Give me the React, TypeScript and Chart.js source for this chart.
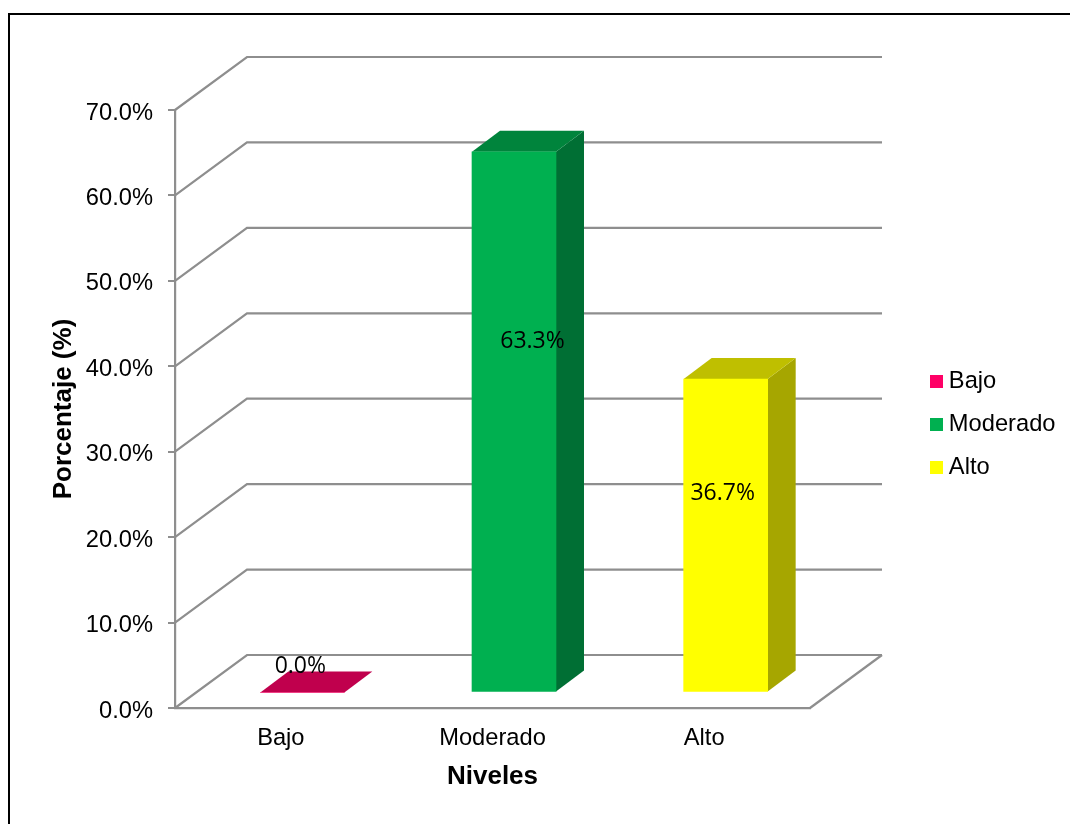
import React, { useEffect, useRef } from "react";
import { Chart, registerables } from "chart.js";

Chart.register(...registerables);

const categories = ["Bajo", "Moderado", "Alto"];
const values = [0.0, 63.3, 36.7];
const valueLabels = ["0.0%", "63.3%", "36.7%"];
const frontColors = ["#FF0066", "#00B050", "#FFFF00"];
const topColors = ["#C0004D", "#00843C", "#BFBF00"];
const sideColors = ["#A80043", "#006F34", "#A6A600"];
const labelOffsetX = [-2, 18.5, -3];
const labelOffsetY = [-27, 189, 113];

const AXIS_FONT = "'Liberation Sans', Arial, sans-serif";
const GRID = "#8E8E8E";
const WALL_DX = 72;
const WALL_DY = 53;
const BAR_DX = 21.5;
const BAR_DY = 15.5;
const DEPTH_DX = 28;
const DEPTH_DY = 21;

function swatch(color: string) {
  const c = document.createElement("canvas");
  c.width = 13;
  c.height = 13;
  const g = c.getContext("2d")!;
  g.fillStyle = color;
  g.fillRect(0, 0, 13, 13);
  return c;
}

const poly = (ctx: CanvasRenderingContext2D, color: string, pts: number[][]) => {
  ctx.fillStyle = color;
  ctx.beginPath();
  pts.forEach(([x, y], i) => (i ? ctx.lineTo(x, y) : ctx.moveTo(x, y)));
  ctx.closePath();
  ctx.fill();
};

const depthPlugin = {
  id: "depth3d",
  afterLayout(chart: any) {
    const l = chart.legend;
    if (!l) return;
    l.left = 917;
    l.right = 1070;
    l.top = 351;
    l.bottom = 824;
  },
  beforeDatasetsDraw(chart: any) {
    const { ctx, scales, chartArea } = chart;
    const { left, right, bottom } = chartArea;
    ctx.save();
    ctx.strokeStyle = GRID;
    ctx.lineWidth = 2.2;
    ctx.lineJoin = "miter";
    scales.y.ticks.forEach((t: any) => {
      const y = scales.y.getPixelForValue(t.value);
      ctx.beginPath();
      ctx.moveTo(left, y);
      ctx.lineTo(left + WALL_DX, y - WALL_DY);
      ctx.lineTo(right + WALL_DX, y - WALL_DY);
      ctx.stroke();
    });
    ctx.beginPath();
    ctx.moveTo(right, bottom);
    ctx.lineTo(right + WALL_DX, bottom - WALL_DY);
    ctx.stroke();

    const meta = chart.getDatasetMeta(0);
    meta.data.forEach((bar: any, i: number) => {
      const w = bar.width;
      const x0 = bar.x - w / 2 + BAR_DX;
      const x1 = bar.x + w / 2 + BAR_DX;
      const yT = bar.y - BAR_DY;
      const yB = bar.base - BAR_DY;
      if (yB - yT > 0.5) {
        poly(ctx, sideColors[i], [
          [x1, yT],
          [x1 + DEPTH_DX, yT - DEPTH_DY],
          [x1 + DEPTH_DX, yB - DEPTH_DY],
          [x1, yB],
        ]);
      }
      poly(ctx, topColors[i], [
        [x0, yT],
        [x0 + DEPTH_DX, yT - DEPTH_DY],
        [x1 + DEPTH_DX, yT - DEPTH_DY],
        [x1, yT],
      ]);
    });
    ctx.restore();
  },
  beforeDatasetDraw(chart: any) {
    chart.ctx.save();
    chart.ctx.translate(BAR_DX, -BAR_DY);
  },
  afterDatasetDraw(chart: any) {
    chart.ctx.restore();
  },
  afterDatasetsDraw(chart: any) {
    const { ctx } = chart;
    const meta = chart.getDatasetMeta(0);
    ctx.save();
    ctx.font = "normal normal 400 23px 'Open Sans', sans-serif";
    ctx.fillStyle = "#000000";
    ctx.textAlign = "center";
    ctx.textBaseline = "middle";
    meta.data.forEach((bar: any, i: number) => {
      ctx.fillText(
        valueLabels[i],
        bar.x + BAR_DX + labelOffsetX[i],
        bar.y - BAR_DY + labelOffsetY[i] + 1
      );
    });
    ctx.restore();
  },
};

export default function App() {
  const ref = useRef<HTMLCanvasElement>(null);
  useEffect(() => {
    const chart = new Chart(ref.current!, {
      type: "bar",
      data: {
        labels: categories,
        datasets: [
          {
            label: "Porcentaje",
            data: values,
            backgroundColor: frontColors,
            barThickness: 84,
            clip: false as any,
          },
        ],
      },
      plugins: [depthPlugin],
      options: {
        animation: false,
        responsive: false,
        layout: { padding: { top: 110, right: 260, bottom: 0, left: 0 } },
        plugins: {
          tooltip: { enabled: false },
          title: { display: false },
          legend: {
            display: true,
            position: "chartArea" as any,
            align: "start",
            labels: {
              usePointStyle: true,
              pointStyleWidth: 1,
              padding: 19,
              color: "#000000",
              font: { family: AXIS_FONT, size: 23.7 },
              generateLabels: () =>
                categories.map((c, i) => ({
                  text: c,
                  fillStyle: frontColors[i],
                  strokeStyle: frontColors[i],
                  lineWidth: 0,
                  pointStyle: swatch(frontColors[i]),
                  hidden: false,
                  index: i,
                })) as any,
            },
          },
        },
        scales: {
          x: {
            afterFit: (s: any) => {
              s.height = 116;
            },
            grid: { display: false },
            border: { display: true, color: GRID, width: 2.2 },
            ticks: {
              color: "#000000",
              font: { family: AXIS_FONT, size: 23.7 },
              padding: 8,
              maxRotation: 0,
              autoSkip: false,
            },
            title: {
              display: true,
              text: "Niveles",
              color: "#000000",
              font: { family: AXIS_FONT, size: 26, weight: "bold" },
              padding: { top: 0, bottom: 32 },
            },
          },
          y: {
            min: 0,
            max: 70,
            afterFit: (s: any) => {
              s.width = 175;
            },
            grid: {
              display: true,
              drawOnChartArea: false,
              drawTicks: true,
              tickLength: 7,
              color: GRID,
              lineWidth: 2,
            },
            border: { display: true, color: GRID, width: 2.2 },
            ticks: {
              stepSize: 10,
              color: "#000000",
              font: { family: AXIS_FONT, size: 23.7 },
              padding: 15,
              labelOffset: 3,
              callback: (v: any) => Number(v).toFixed(1) + "%",
            },
            title: {
              display: true,
              text: "Porcentaje (%)",
              color: "#000000",
              font: { family: AXIS_FONT, size: 26, weight: "bold" },
              padding: { top: 48, bottom: 0 },
            },
          },
        },
      },
    } as any);
    return () => chart.destroy();
  }, []);
  return (
    <div style={{ position: "absolute", left: 0, top: 0, width: 1070, height: 824, background: "#ffffff", overflow: "hidden" }}>
      <div
        style={{
          position: "absolute",
          left: 8,
          top: 13,
          width: 1062,
          height: 811,
          boxSizing: "border-box",
          borderTop: "2px solid #000000",
          borderLeft: "2px solid #000000",
        }}
      />
      <canvas ref={ref} width={1070} height={824} style={{ position: "absolute", left: 0, top: 0, display: "block" }} />
    </div>
  );
}
